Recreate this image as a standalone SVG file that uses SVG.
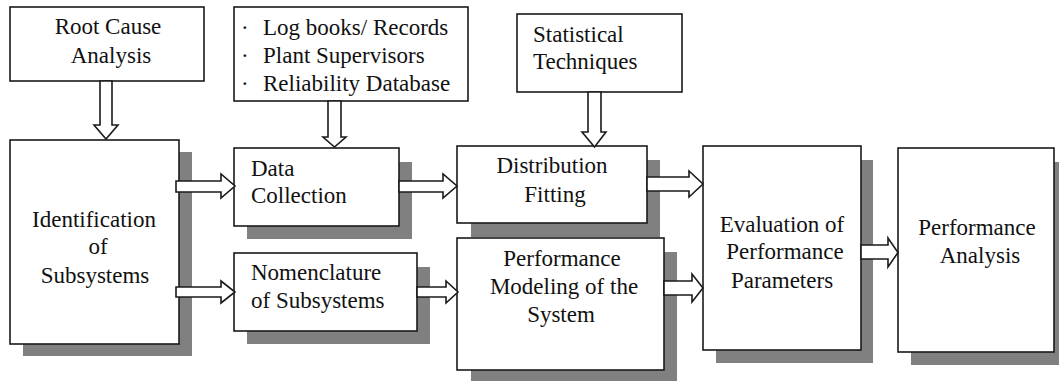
<svg xmlns="http://www.w3.org/2000/svg" width="1059" height="381" viewBox="0 0 1059 381">
<style>
.box{fill:#fff;stroke:#1a1a1a;stroke-width:1.6}
.sh{fill:#808080}
.t{font-size:23px;fill:#111}
.c{text-anchor:middle}
.arr{fill:#fff;stroke:#1a1a1a;stroke-width:1.6;stroke-linejoin:miter}
</style>
<rect width="1059" height="381" fill="#fff"/>
<g font-family="'Liberation Serif', 'DejaVu Serif', serif">
<g id="root-cause">
<rect class="box" x="10" y="7" width="194" height="74"/>
<text class="t c" x="108" y="34">Root Cause</text>
<text class="t c" x="111" y="63">Analysis</text>
</g>
<g id="sources">
<rect class="box" x="234" y="7" width="234" height="94"/>
<text class="t" x="241" y="35">·</text>
<text class="t" x="263" y="35">Log books/ Records</text>
<text class="t" x="241" y="63">·</text>
<text class="t" x="263" y="63">Plant Supervisors</text>
<text class="t" x="241" y="91">·</text>
<text class="t" x="263" y="91">Reliability Database</text>
</g>
<g id="statistical">
<rect class="box" x="517" y="14" width="165" height="78"/>
<text class="t" x="533" y="42">Statistical</text>
<text class="t" x="533" y="69">Techniques</text>
</g>
<g id="identification">
<rect class="sh" x="23" y="152" width="169" height="204"/>
<rect class="box" x="10" y="140" width="169" height="204"/>
<text class="t c" x="94" y="227">Identification</text>
<text class="t c" x="98" y="254">of</text>
<text class="t c" x="95" y="283">Subsystems</text>
</g>
<g id="data-collection">
<rect class="sh" x="247" y="162" width="165" height="77"/>
<rect class="box" x="234" y="148" width="165" height="78"/>
<text class="t" x="251" y="176">Data</text>
<text class="t" x="251" y="203">Collection</text>
</g>
<g id="nomenclature">
<rect class="sh" x="247" y="267" width="183" height="77"/>
<rect class="box" x="234" y="253" width="183" height="78"/>
<text class="t" x="251" y="280">Nomenclature</text>
<text class="t" x="251" y="308">of Subsystems</text>
</g>
<g id="distribution">
<rect class="sh" x="471" y="160" width="189" height="77"/>
<rect class="box" x="457" y="146" width="190" height="77"/>
<text class="t c" x="552" y="173">Distribution</text>
<text class="t c" x="555" y="202">Fitting</text>
</g>
<g id="performance-modeling">
<rect class="sh" x="471" y="252" width="206" height="132"/>
<rect class="box" x="457" y="238" width="207" height="132"/>
<text class="t c" x="562" y="266">Performance</text>
<text class="t c" x="564" y="294">Modeling of the</text>
<text class="t c" x="561" y="322">System</text>
</g>
<g id="evaluation">
<rect class="sh" x="716" y="160" width="157" height="203"/>
<rect class="box" x="703" y="146" width="158" height="204"/>
<text class="t c" x="782" y="232">Evaluation of</text>
<text class="t c" x="785" y="259">Performance</text>
<text class="t c" x="782" y="288">Parameters</text>
</g>
<g id="performance-analysis">
<rect class="sh" x="911" y="162" width="156" height="203"/>
<rect class="box" x="898" y="148" width="156" height="204"/>
<text class="t c" x="977" y="235">Performance</text>
<text class="t c" x="980" y="263">Analysis</text>
</g>
</g>
<g id="connectors">
<polygon class="arr" points="100,81 112,81 112,125 118,125 106,139 94,125 100,125"/>
<polygon class="arr" points="328,101 341,101 341,137 346,137 334.5,147 323,137 328,137"/>
<polygon class="arr" points="588,92 601,92 601,132 606,132 594.5,147 582,132 588,132"/>
<polygon class="arr" points="176,181 221,181 221,174 235,186 221,198 221,192 176,192"/>
<polygon class="arr" points="176,287 221,287 221,281 235,292 221,303 221,297 176,297"/>
<polygon class="arr" points="399,181 443,181 443,174 457,186 443,198 443,192 399,192"/>
<polygon class="arr" points="417,287 446,287 446,281 458,292 446,303 446,297 417,297"/>
<polygon class="arr" points="647,177 689,177 689,171 703,184 689,197 689,191 647,191"/>
<polygon class="arr" points="664,281 692,281 692,274 703,288 692,302 692,295 664,295"/>
<polygon class="arr" points="861,245 888,245 888,238 898,252.5 888,267 888,259 861,259"/>
</g>
</svg>
